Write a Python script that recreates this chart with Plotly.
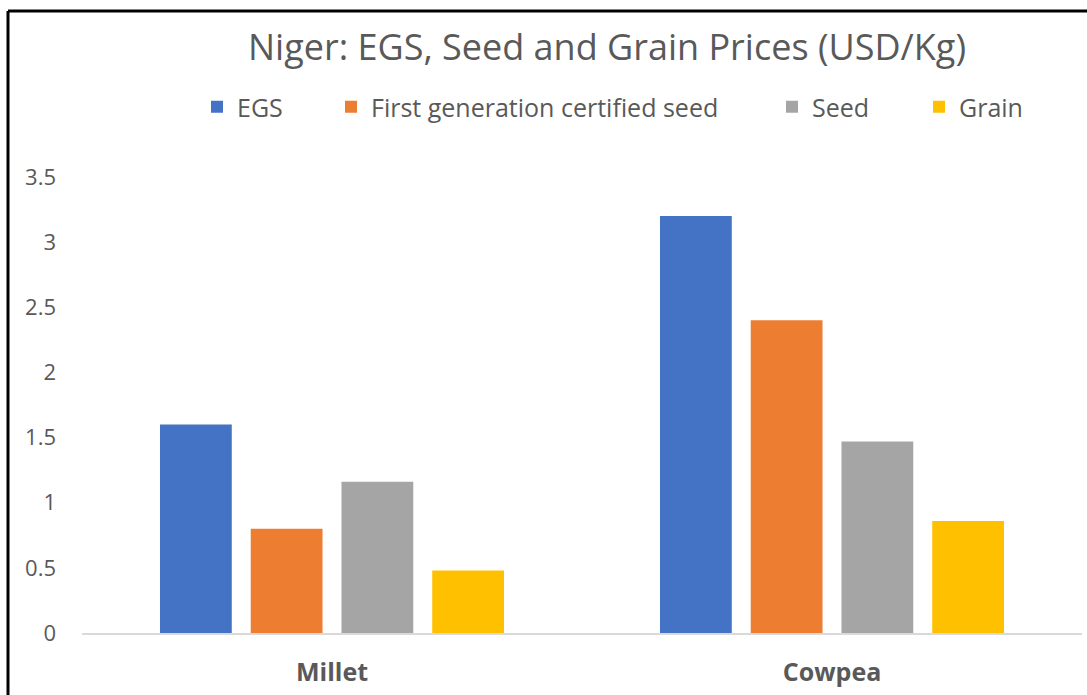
import plotly.graph_objects as go

categories = ["Millet", "Cowpea"]
series_names = ["EGS", "First generation certified seed", "Seed", "Grain"]
egs = [1.60, 3.20]
first_gen = [0.80, 2.40]
seed = [1.16, 1.47]
grain = [0.48, 0.86]
y_ticks = [0, 0.5, 1, 1.5, 2, 2.5, 3, 3.5]
y_tick_labels = ["0", "0.5", "1", "1.5", "2", "2.5", "3", "3.5"]

colors = ["#4472C4", "#ED7D31", "#A5A5A5", "#FFC000"]
values = [egs, first_gen, seed, grain]
legend_ids = ["legend", "legend2", "legend3", "legend4"]
legend_x_px = [197, 331, 772, 919]

W, H = 1087, 695
ML, MR, MT, MB = 82, 5, 177, 62
TXT = "#595959"
FONT = "Open Sans"

fig = go.Figure()
for name, vals, col, lid in zip(series_names, values, colors, legend_ids):
    fig.add_trace(go.Bar(x=categories, y=vals, name=name, marker=dict(color=col, line=dict(width=0)),
                         legend=lid))

legend_layouts = {}
for lid, xpx in zip(legend_ids, legend_x_px):
    legend_layouts[lid] = dict(
        orientation="h", xref="container", yref="container",
        x=xpx / W, y=1 - 107 / H, xanchor="left", yanchor="middle",
        font=dict(family=FONT, size=25, color=TXT), bgcolor="rgba(0,0,0,0)",
        itemwidth=30, borderwidth=0,
    )

pw = W - ML - MR
ph = H - MT - MB
def px_x(x):
    return (x - ML) / pw
def px_y(y):
    return (H - MB - y) / ph

fig.update_layout(
    width=W, height=H, autosize=False,
    margin=dict(l=ML, r=MR, t=MT, b=MB),
    paper_bgcolor="white", plot_bgcolor="white",
    barmode="group", bargap=0.274, bargroupgap=0.209,
    title=dict(text="Niger: EGS, Seed and Grain Prices (USD/Kg)",
               x=607 / W, xref="container", xanchor="center",
               y=1 - 47 / H, yref="container", yanchor="middle",
               font=dict(family=FONT, size=36, color=TXT)),
    font=dict(family=FONT, color=TXT),
    showlegend=True,
    **legend_layouts,
    xaxis=dict(showgrid=False, showline=True, linecolor="#D9D9D9", linewidth=1.5,
               ticks="", tickfont=dict(family=FONT, size=25, color=TXT, weight="bold"),
               ticklabelstandoff=16),
    yaxis=dict(range=[0, 3.5], tickvals=y_ticks, ticktext=y_tick_labels, showgrid=False,
               zeroline=False, showline=False, ticks="",
               tickfont=dict(family=FONT, size=22, color=TXT), ticklabelstandoff=25),
    shapes=[
        dict(type="line", xref="paper", yref="paper", x0=px_x(8), x1=px_x(W + 5),
             y0=px_y(11), y1=px_y(11), line=dict(color="black", width=3), layer="above"),
        dict(type="line", xref="paper", yref="paper", x0=px_x(8), x1=px_x(8),
             y0=px_y(11), y1=px_y(H + 5), line=dict(color="black", width=3), layer="above"),
    ],
)

fig.write_html("out.html", config={"displayModeBar": False},
               post_script="document.body.style.margin='0';")
